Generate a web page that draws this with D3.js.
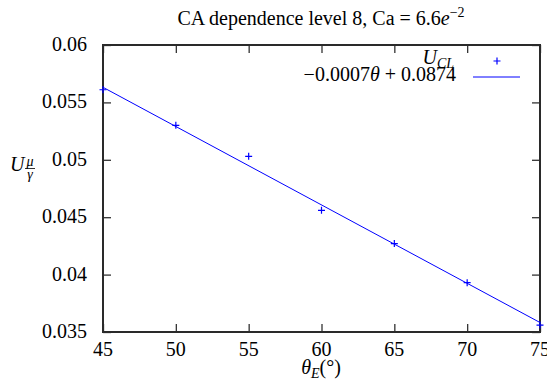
<!DOCTYPE html>
<html>
<head>
<meta charset="UTF-8">
<script src="https://d3js.org/d3.v7.min.js"></script>
</head>
<body style="margin:0">
<svg id="chart" width="547" height="385"></svg>
<script>
  // measured contact line velocity vs. equilibrium angle
  const angles = [45, 50, 55, 60, 65, 70, 75];
  const velocity = [0.0561, 0.0530, 0.0503, 0.0456, 0.0427, 0.0393, 0.0356];
  const xTicks = [45, 50, 55, 60, 65, 70, 75];
  const yTicks = [0.035, 0.04, 0.045, 0.05, 0.055, 0.06];
  // linear fit (legend shows rounded values)
  const fitSlope = -0.000683;
  const fitIntercept = 0.08705;

  const margin = {top: 45, right: 7, bottom: 53, left: 103};
  const W = 547, H = 385;
  const blue = "#0000ff";
  const fs = 20;
  const small = 14;

  const svg = d3.select("#chart");

  // every text goes through here so the serif face is set on the element itself
  function label(parent, px, py, size) {
    return parent.append("text")
      .attr("x", px).attr("y", py)
      .attr("font-size", size)
      .style("font-family", "'Liberation Serif'")
      .style("fill", "#000");
  }

  const x = d3.scaleLinear().domain([45, 75]).range([margin.left, W - margin.right]);
  const y = d3.scaleLinear().domain([0.035, 0.06]).range([H - margin.bottom, margin.top]);

  const fmtY = d => String(+d.toFixed(3));

  // ticks on all four sides, pointing inward, labels drawn separately
  svg.append("g")
      .attr("transform", `translate(0,${y(0.035)})`)
      .call(d3.axisBottom(x).tickValues(xTicks).tickFormat("").tickSize(-8).tickSizeOuter(0));
  svg.append("g")
      .attr("transform", `translate(${x(45)},0)`)
      .call(d3.axisLeft(y).tickValues(yTicks).tickFormat("").tickSize(-8).tickSizeOuter(0));
  svg.append("g")
      .attr("transform", `translate(0,${y(0.06)})`)
      .call(d3.axisTop(x).tickValues(xTicks).tickFormat("").tickSize(-8).tickSizeOuter(0));
  svg.append("g")
      .attr("transform", `translate(${x(75)},0)`)
      .call(d3.axisRight(y).tickValues(yTicks).tickFormat("").tickSize(-8).tickSizeOuter(0));

  svg.selectAll(".domain").remove();
  svg.selectAll(".tick text").remove();
  svg.selectAll(".tick line").attr("stroke", "#333").attr("stroke-width", 1.3);

  xTicks.forEach(t => {
    label(svg, x(t), y(0.035) + 24, fs).attr("text-anchor", "middle").text(t);
  });
  yTicks.forEach(t => {
    label(svg, x(45) - 16, y(t) + 6, fs).attr("text-anchor", "end").text(fmtY(t));
  });

  // frame
  svg.append("rect")
      .attr("x", x(45)).attr("y", y(0.06))
      .attr("width", x(75) - x(45)).attr("height", y(0.035) - y(0.06))
      .attr("fill", "none").attr("stroke", "#2a2a2a").attr("stroke-width", 2);

  // fit line
  svg.append("line")
      .attr("x1", x(45)).attr("y1", y(fitSlope * 45 + fitIntercept))
      .attr("x2", x(75)).attr("y2", y(fitSlope * 75 + fitIntercept))
      .attr("stroke", blue).attr("stroke-width", 1);

  // data points
  const plus = "M-3.5,0H3.5M0,-3.5V3.5";
  svg.append("g").selectAll("path")
      .data(angles.map((a, i) => [a, velocity[i]]))
      .join("path")
      .attr("d", plus)
      .attr("transform", d => `translate(${x(d[0])},${y(d[1])})`)
      .attr("stroke", blue).attr("stroke-width", 1.2).attr("fill", "none");

  // title
  const title = label(svg, 321, 25, fs).attr("text-anchor", "middle");
  title.append("tspan").text("CA dependence level 8, Ca = 6.6");
  title.append("tspan").attr("font-style", "italic").text("e");
  title.append("tspan").attr("font-size", small).attr("dy", -8).text("−2");

  // x label
  const xl = label(svg, 321, 374, fs).attr("text-anchor", "middle");
  xl.append("tspan").attr("font-style", "italic").text("θ");
  xl.append("tspan").attr("font-style", "italic").attr("font-size", small).attr("dy", 4).text("E");
  xl.append("tspan").attr("dy", -4).text("(°)");

  // y label: U mu/gamma
  label(svg, 10, 171, fs).attr("font-style", "italic").text("U");
  label(svg, 30, 166, small).attr("font-style", "italic").attr("text-anchor", "middle").text("μ");
  svg.append("line").attr("x1", 25).attr("x2", 35).attr("y1", 168.5).attr("y2", 168.5)
      .attr("stroke", "#000").attr("stroke-width", 0.8);
  label(svg, 30, 179, small).attr("font-style", "italic").attr("text-anchor", "middle").text("γ");

  // legend
  const l1 = label(svg, 454, 64, fs).attr("text-anchor", "end");
  l1.append("tspan").attr("font-style", "italic").text("U");
  l1.append("tspan").attr("font-style", "italic").attr("font-size", small).attr("dy", 4).text("CL");
  svg.append("path").attr("d", plus)
      .attr("transform", "translate(497,61)")
      .attr("stroke", blue).attr("stroke-width", 1.2);

  const l2 = label(svg, 456, 81, fs).attr("text-anchor", "end");
  l2.append("tspan").text("−0.0007");
  l2.append("tspan").attr("font-style", "italic").text("θ");
  l2.append("tspan").text(" + 0.0874");
  svg.append("line").attr("x1", 473).attr("x2", 520).attr("y1", 77).attr("y2", 77)
      .attr("stroke", blue).attr("stroke-width", 1);
</script>
</body>
</html>
